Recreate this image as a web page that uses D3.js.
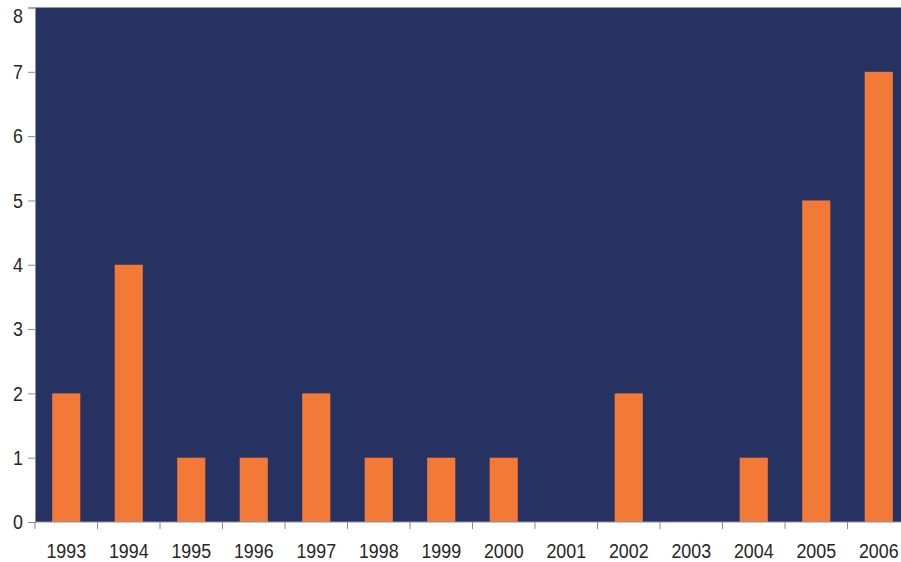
<!DOCTYPE html>
<html>
<head>
<meta charset="utf-8">
<script src="https://cdn.jsdelivr.net/npm/d3@7"></script>
<style>
  html, body { margin: 0; padding: 0; background: #ffffff; }
  svg { display: block; }
</style>
</head>
<body>
<svg id="chart" width="901" height="562"></svg>
<script>
// Yearly counts
const years = ["1993","1994","1995","1996","1997","1998","1999","2000","2001","2002","2003","2004","2005","2006"];
const counts = [2, 4, 1, 1, 2, 1, 1, 1, 0, 2, 0, 1, 5, 7];
const yTicks = [0, 1, 2, 3, 4, 5, 6, 7, 8];

const FONT = "'Liberation Sans', Arial, sans-serif";
const FONT_SIZE = 21;
const NARROW = 0.85; // horizontal squeeze for a narrow face

const svg = d3.select("#chart");
const margin = { left: 35, top: 7.5, right: -9, bottom: 40 };
const W = 901, H = 562;
const plotW = W - margin.left - margin.right;
const plotH = H - margin.top - margin.bottom;

const x = d3.scaleBand().domain(years).range([0, plotW]).paddingInner(0.55).paddingOuter(0.275);
const xBand = d3.scaleBand().domain(years).range([0, plotW]);
const y = d3.scaleLinear().domain([0, 8]).range([plotH, 0]);

const g = svg.append("g").attr("transform", `translate(${margin.left},${margin.top})`);

// plot background
g.append("rect")
  .attr("x", 0).attr("y", 0)
  .attr("width", plotW).attr("height", plotH)
  .attr("fill", "#263262");

// bars
g.selectAll("rect.bar")
  .data(years.map((yr, i) => ({ yr, v: counts[i] })))
  .join("rect")
  .attr("class", "bar")
  .attr("x", d => x(d.yr))
  .attr("width", x.bandwidth())
  .attr("y", d => y(d.v))
  .attr("height", d => plotH - y(d.v))
  .attr("fill", "#f37936");

// y axis
const yAxis = g.append("g")
  .call(d3.axisLeft(y).tickValues(yTicks).tickSize(7).tickFormat(d3.format("d")));
yAxis.select(".domain").attr("stroke", "#8a8fa8");
yAxis.selectAll(".tick line").attr("stroke", "#8a8a8a");
yAxis.selectAll(".tick text")
  .attr("x", null)
  .attr("font-family", FONT)
  .attr("font-size", FONT_SIZE)
  .attr("fill", "#262626")
  .attr("transform", d => `translate(-12,${d === 8 ? 8 : 0}) scale(${NARROW},1)`);

// x axis: ticks at band boundaries
const xAxis = g.append("g").attr("transform", `translate(0,${plotH})`);
xAxis.append("line")
  .attr("x1", 0).attr("x2", plotW)
  .attr("stroke", "#8a8fa8");
xAxis.selectAll("line.tk")
  .data(years)
  .join("line")
  .attr("class", "tk")
  .attr("x1", d => xBand(d)).attr("x2", d => xBand(d))
  .attr("y1", 0).attr("y2", 7)
  .attr("stroke", "#8a8a8a");
xAxis.selectAll("text")
  .data(years)
  .join("text")
  .attr("transform", d => `translate(${xBand(d) + xBand.bandwidth() / 2},35.5) scale(${NARROW},1)`)
  .attr("text-anchor", "middle")
  .attr("font-family", FONT)
  .attr("font-size", FONT_SIZE)
  .attr("fill", "#262626")
  .text(d => d);
</script>
</body>
</html>
